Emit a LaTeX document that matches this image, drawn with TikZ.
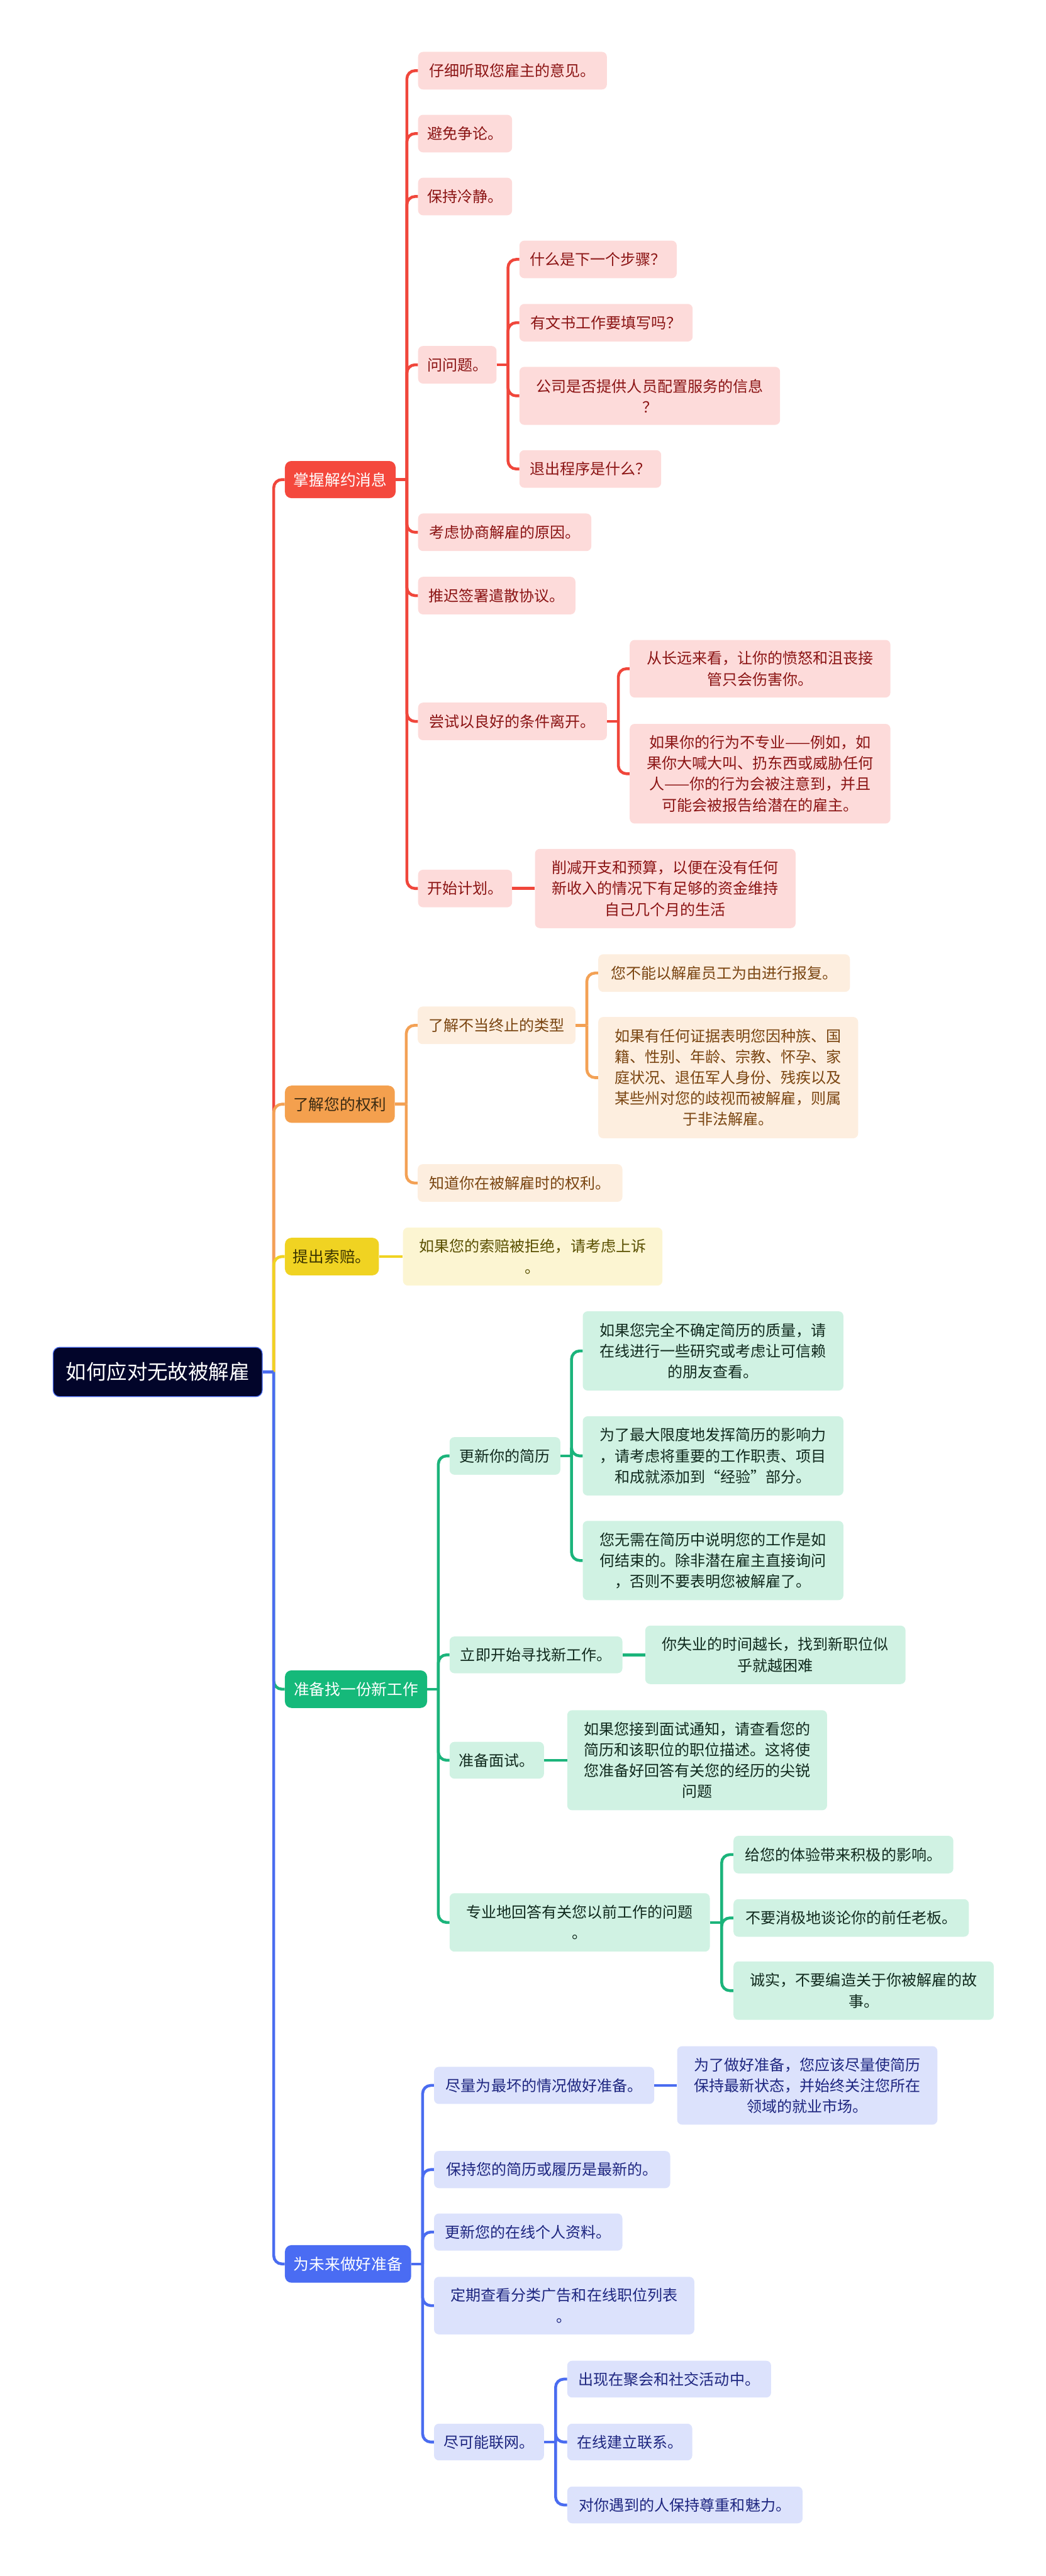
\documentclass[tikz,border=0pt]{standalone}
\usepackage{fontspec}
\setmainfont{Noto Sans CJK SC}
\usepackage{xcolor}
\usetikzlibrary{calc}
\definecolor{rootfill}{HTML}{02052A}
\definecolor{rootline}{HTML}{4A6CF0}
\definecolor{redmain}{HTML}{F4483D}
\definecolor{redlink}{HTML}{F0463B}
\definecolor{redsoft}{HTML}{FDDBDA}
\definecolor{redtext}{HTML}{8B1414}
\definecolor{orgmain}{HTML}{F4A04E}
\definecolor{orglink}{HTML}{F3A155}
\definecolor{orgsoft}{HTML}{FDEEDF}
\definecolor{orgtext}{HTML}{7A4511}
\definecolor{orgdark}{HTML}{3A2A12}
\definecolor{ylwmain}{HTML}{F0D322}
\definecolor{ylwsoft}{HTML}{FCF5D2}
\definecolor{ylwtext}{HTML}{594F00}
\definecolor{ylwdark}{HTML}{3A3300}
\definecolor{grnmain}{HTML}{15B97A}
\definecolor{grnlink}{HTML}{1BB47B}
\definecolor{grnsoft}{HTML}{D0F2E3}
\definecolor{grntext}{HTML}{112A1E}
\definecolor{blumain}{HTML}{4A6CF3}
\definecolor{blulink}{HTML}{4A6CF0}
\definecolor{blusoft}{HTML}{DCE2FC}
\definecolor{blutext}{HTML}{1E2680}
\tikzset{
  sz/.style 2 args={minimum width=#1pt, minimum height=#2pt},
  leaf/.style={anchor=west, rounded corners=6pt, inner xsep=4pt, inner ysep=2pt, align=center, font=\fontsize{18.5}{25.5}\selectfont},
  topic/.style={anchor=west, rounded corners=8pt, inner xsep=4pt, inner ysep=2pt, font=\fontsize{19}{25}\selectfont},
  rootbox/.style={anchor=west, rounded corners=8pt, draw=rootline, line width=1pt, fill=rootfill, text=white, font=\fontsize{25}{30}\selectfont},
  redtopic/.style={topic, fill=redmain, text=white},
  redleaf/.style={leaf, fill=redsoft, text=redtext},
  orgtopic/.style={topic, fill=orgmain, text=orgdark},
  orgleaf/.style={leaf, fill=orgsoft, text=orgtext},
  ylwtopic/.style={topic, fill=ylwmain, text=ylwdark},
  ylwleaf/.style={leaf, fill=ylwsoft, text=ylwtext},
  grntopic/.style={topic, fill=grnmain, text=white},
  grnleaf/.style={leaf, fill=grnsoft, text=grntext},
  blutopic/.style={topic, fill=blumain, text=white},
  bluleaf/.style={leaf, fill=blusoft, text=blutext},
  link/.style={line width=3.5pt, draw=#1}
}
\begin{document}
\begin{tikzpicture}[x=1pt,y=-1pt]
\useasboundingbox (0,0) rectangle (1280,3153);
\node[rootbox, sz={256}{60.5}] (root) at (64.5,1679.25) {如何应对无故被解雇};

\node[redtopic, sz={135.5}{45.5}] (A) at (348.5,587) {掌握解约消息};
\node[orgtopic, sz={134.5}{45.5}] (B) at (348.5,1351.5) {了解您的权利};
\node[ylwtopic, sz={115}{46}] (C) at (348.5,1538) {提出索赔。};
\node[grntopic, sz={174}{46}] (D) at (348.5,2067.5) {准备找一份新工作};
\node[blutopic, sz={154.5}{46}] (E) at (348.5,2771) {为未来做好准备};

% 掌握解约消息
\foreach \n/\y/\w/\t in {a1/86.5/231/仔细听取您雇主的意见。, a2/163.5/115/避免争论。, a3/240.5/115/保持冷静。, a4/446.5/96/问问题。, a5/651.5/212/考虑协商解雇的原因。, a6/729/192.5/推迟签署遣散协议。, a7/883/231/尝试以良好的条件离开。, a8/1087.5/115/开始计划。}{
\node[redleaf, sz={\w}{46}] (\n) at (511.5,\y) {\t};
}
\foreach \n/\y/\w/\t in {a41/317.5/192.5/什么是下一个步骤？, a42/395/212/有文书工作要填写吗？, a44/574/173.5/退出程序是什么？}{
\node[redleaf, sz={\w}{46}] (\n) at (635.5,\y) {\t};
}
\node[redleaf, sz={319}{71}] (a43) at (635.5,484.5) {公司是否提供人员配置服务的信息\\？};
\node[redleaf, sz={319}{70.5}] (a71) at (770.5,818.5) {从长远来看，让你的愤怒和沮丧接\\管只会伤害你。};
\node[redleaf, sz={319}{122}] (a72) at (770.5,947) {如果你的行为不专业——例如，如\\果你大喊大叫、扔东西或威胁任何\\人——你的行为会被注意到，并且\\可能会被报告给潜在的雇主。};
\node[redleaf, sz={319}{97}] (a81) at (654.5,1087.5) {削减开支和预算，以便在没有任何\\新收入的情况下有足够的资金维持\\自己几个月的生活};

% 了解您的权利
\node[orgleaf, sz={193}{46}] (b1) at (511,1255) {了解不当终止的类型};
\node[orgleaf, sz={308}{46}] (b11) at (732,1191) {您不能以解雇员工为由进行报复。};
\node[orgleaf, sz={318}{148.5}] (b12) at (732,1319) {如果有任何证据表明您因种族、国\\籍、性别、年龄、宗教、怀孕、家\\庭状况、退伍军人身份、残疾以及\\某些州对您的歧视而被解雇，则属\\于非法解雇。};
\node[orgleaf, sz={250.5}{46}] (b2) at (511,1448) {知道你在被解雇时的权利。};

% 提出索赔
\node[ylwleaf, sz={317.5}{71}] (c1) at (493,1538) {如果您的索赔被拒绝，请考虑上诉\\。};

% 准备找一份新工作
\node[grnleaf, sz={135.5}{46}] (d1) at (550,1782) {更新你的简历};
\node[grnleaf, sz={319}{97}] (d11) at (713,1653.5) {如果您完全不确定简历的质量，请\\在线进行一些研究或考虑让可信赖\\的朋友查看。};
\node[grnleaf, sz={319}{97}] (d12) at (713,1782) {为了最大限度地发挥简历的影响力\\，请考虑将重要的工作职责、项目\\和成就添加到“经验”部分。};
\node[grnleaf, sz={319}{97}] (d13) at (713,1910) {您无需在简历中说明您的工作是如\\何结束的。除非潜在雇主直接询问\\，否则不要表明您被解雇了。};
\node[grnleaf, sz={211.5}{45}] (d2) at (550,2025.5) {立即开始寻找新工作。};
\node[grnleaf, sz={318.5}{71.5}] (d21) at (789.5,2025.5) {你失业的时间越长，找到新职位似\\乎就越困难};
\node[grnleaf, sz={115.5}{45}] (d3) at (550,2154.5) {准备面试。};
\node[grnleaf, sz={318}{122.5}] (d31) at (694,2154.5) {如果您接到面试通知，请查看您的\\简历和该职位的职位描述。这将使\\您准备好回答有关您的经历的尖锐\\问题};
\node[grnleaf, sz={318.5}{71.5}] (d4) at (550,2353) {专业地回答有关您以前工作的问题\\。};
\node[grnleaf, sz={269}{46}] (d41) at (897.5,2270) {给您的体验带来积极的影响。};
\node[grnleaf, sz={288}{46}] (d42) at (897.5,2347.5) {不要消极地谈论你的前任老板。};
\node[grnleaf, sz={318.5}{71.5}] (d43) at (897.5,2436.5) {诚实，不要编造关于你被解雇的故\\事。};

% 为未来做好准备
\node[bluleaf, sz={269.5}{45.5}] (e1) at (531,2552.5) {尽量为最坏的情况做好准备。};
\node[bluleaf, sz={318.5}{96}] (e11) at (828.5,2552.5) {为了做好准备，您应该尽量使简历\\保持最新状态，并始终关注您所在\\领域的就业市场。};
\node[bluleaf, sz={289}{45.5}] (e2) at (531,2655.5) {保持您的简历或履历是最新的。};
\node[bluleaf, sz={230.5}{45.5}] (e3) at (531,2732) {更新您的在线个人资料。};
\node[bluleaf, sz={318.5}{70.5}] (e4) at (531,2822) {定期查看分类广告和在线职位列表\\。};
\node[bluleaf, sz={134.5}{45}] (e5) at (531,2989) {尽可能联网。};
\foreach \n/\y/\w/\t in {e51/2912/249.5/出现在聚会和社交活动中。, e52/2989/153/在线建立联系。, e53/3066/288/对你遇到的人保持尊重和魅力。}{
\node[bluleaf, sz={\w}{45}] (\n) at (694,\y) {\t};
}

% connectors
\foreach \p/\c/\col in {root/A/redlink, A/a1/redlink, A/a2/redlink, A/a3/redlink, A/a4/redlink, A/a5/redlink, A/a6/redlink, A/a7/redlink, A/a8/redlink, a4/a41/redlink, a4/a42/redlink, a4/a43/redlink, a4/a44/redlink, a7/a71/redlink, a7/a72/redlink, root/B/orglink, B/b1/orglink, B/b2/orglink, b1/b11/orglink, b1/b12/orglink, root/C/ylwmain, root/D/grnlink, D/d1/grnlink, D/d2/grnlink, D/d3/grnlink, D/d4/grnlink, d1/d11/grnlink, d1/d12/grnlink, d1/d13/grnlink, d4/d41/grnlink, d4/d42/grnlink, d4/d43/grnlink, root/E/blulink, E/e1/blulink, E/e2/blulink, E/e3/blulink, E/e4/blulink, E/e5/blulink, e5/e51/blulink, e5/e52/blulink, e5/e53/blulink}{
\path (\p.east) -- (\p.east -| \c.west) coordinate[midway] (m);
\draw[link=\col] (\p.east) -- (m);
\draw[link=\col, rounded corners=10pt] (m) |- (\c.west);
}
% straight ones
\foreach \p/\c/\col in {a8/a81/redlink, C/c1/ylwmain, d2/d21/grnlink, d3/d31/grnlink, e1/e11/blulink}{
\draw[link=\col] (\p.east) -- (\p.east -| \c.west);
}
\end{tikzpicture}
\end{document}
